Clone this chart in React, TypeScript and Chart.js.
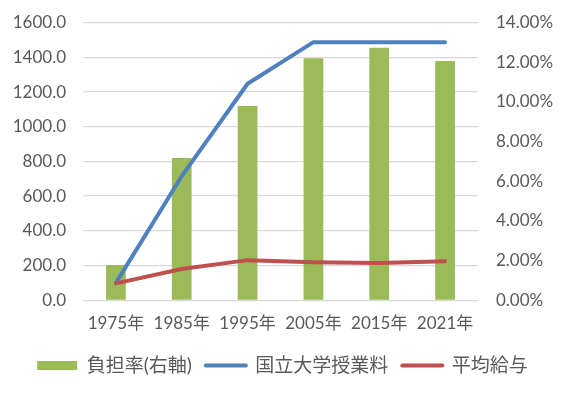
import React, { useEffect, useRef } from "react";
import { Chart, registerables } from "chart.js";

Chart.register(...registerables);

const categories = ["1975年", "1985年", "1995年", "2005年", "2015年", "2021年"];
const burdenRate = [0.0177, 0.0718, 0.098, 0.1221, 0.1273, 0.1207];
const tuition = [100, 715, 1248, 1488, 1488, 1488];
const avgSalary = [97, 180, 231, 219, 214, 224];

const labelBurden = "負担率(右軸)";
const labelTuition = "国立大学授業料";
const labelSalary = "平均給与";

const GREEN = "#9BBB59";
const BLUE = "#4F81BD";
const RED = "#C0504D";
const TEXT = "#595959";
const GRID = "#D9D9D9";

export default function App() {
  const ref = useRef<HTMLCanvasElement>(null);
  useEffect(() => {
    if (!ref.current) return;
    const font = { family: "Lato, 'Noto Sans CJK JP', sans-serif", size: 17 };
    const legendFont = { family: "Lato, 'Noto Sans CJK JP', sans-serif", size: 19 };
    const chart = new Chart(ref.current, {
      type: "bar",
      data: {
        labels: categories,
        datasets: [
          {
            type: "bar",
            label: labelBurden,
            data: burdenRate,
            backgroundColor: GREEN,
            yAxisID: "y1",
            order: 2,
            barPercentage: 0.3,
            categoryPercentage: 1,
          },
          {
            type: "line",
            label: labelTuition,
            data: tuition,
            borderColor: BLUE,
            backgroundColor: BLUE,
            borderWidth: 4,
            pointRadius: 0,
            yAxisID: "y",
            order: 1,
            borderCapStyle: "round",
            borderJoinStyle: "round",
          },
          {
            type: "line",
            label: labelSalary,
            data: avgSalary,
            borderColor: RED,
            backgroundColor: RED,
            borderWidth: 4,
            pointRadius: 0,
            yAxisID: "y",
            order: 0,
            borderCapStyle: "round",
            borderJoinStyle: "round",
          },
        ] as any,
      },
      options: {
        animation: false,
        responsive: true,
        maintainAspectRatio: false,
        layout: { padding: { top: 14.7, left: 0, right: 0, bottom: 4 } },
        plugins: {
          tooltip: { enabled: false },
          legend: {
            position: "bottom",
            labels: {
              font: legendFont,
              color: TEXT,
              usePointStyle: true,
              pointStyleWidth: 40,
              boxHeight: 9,
              padding: 14,
              generateLabels: () => [
                { text: labelBurden, fillStyle: GREEN, strokeStyle: GREEN, lineWidth: 0, pointStyle: "rect", datasetIndex: 0, hidden: false, fontColor: TEXT },
                { text: labelTuition, fillStyle: BLUE, strokeStyle: BLUE, lineWidth: 4, lineCap: "round", pointStyle: "line", datasetIndex: 1, hidden: false, fontColor: TEXT },
                { text: labelSalary, fillStyle: RED, strokeStyle: RED, lineWidth: 4, lineCap: "round", pointStyle: "line", datasetIndex: 2, hidden: false, fontColor: TEXT },
              ] as any,
            },
          },
        },
        scales: {
          x: {
            grid: { display: false, drawTicks: false },
            border: { display: false },
            ticks: { font, color: TEXT, padding: 13, maxRotation: 0 },
            afterFit: (s: any) => { s.height = 41.8; },
          },
          y: {
            position: "left",
            min: 0,
            max: 1600,
            ticks: {
              stepSize: 200,
              font,
              color: TEXT,
              padding: 0,
              callback: (v: any) => Number(v).toFixed(1),
            },
            grid: { color: GRID, lineWidth: 1.3, drawTicks: true, tickLength: 17, tickColor: "rgba(0,0,0,0)" },
            border: { display: false },
            afterFit: (s: any) => { s.width = 75; },
          },
          y1: {
            position: "right",
            min: 0,
            max: 0.14,
            ticks: {
              stepSize: 0.02,
              font,
              color: TEXT,
              padding: 0,
              callback: (v: any) => (Number(v) * 100).toFixed(2) + "%",
            },
            grid: { drawOnChartArea: false, drawTicks: true, tickLength: 18, tickColor: "rgba(0,0,0,0)" },
            border: { display: false },
            afterFit: (s: any) => { s.width = 79; },
          },
        },
      } as any,
    });
    return () => chart.destroy();
  }, []);
  return (
    <div style={{ width: 549, height: 381, position: "relative" }}>
      <canvas ref={ref} />
    </div>
  );
}
